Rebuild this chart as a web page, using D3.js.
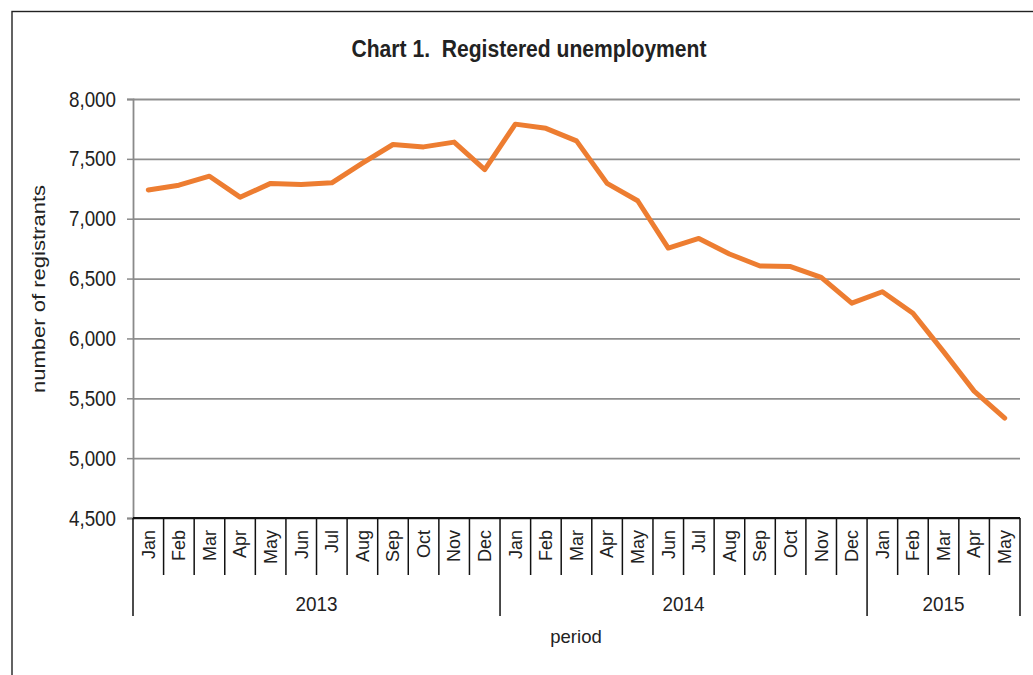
<!DOCTYPE html>
<html>
<head>
<meta charset="utf-8">
<script src="https://cdn.jsdelivr.net/npm/d3@7"></script>
<style>
  body { margin: 0; background: #fff; }
  text { font-family: "Liberation Sans", Arial, sans-serif; fill: #222; }
</style>
</head>
<body>
<div id="chart"></div>
<script>
// Chart data
const yearLabels = ["2013", "2014", "2015"];
const monthsPerYear = [12, 12, 5];
const monthNames = ["Jan", "Feb", "Mar", "Apr", "May", "Jun", "Jul", "Aug", "Sep", "Oct", "Nov", "Dec"];
const registrants2013 = [7240, 7280, 7355, 7180, 7295, 7285, 7300, 7465, 7620, 7600, 7640, 7410];
const registrants2014 = [7790, 7755, 7650, 7295, 7150, 6755, 6835, 6705, 6605, 6600, 6510, 6295];
const registrants2015 = [6390, 6210, 5890, 5560, 5335];
const yTicks = [4500, 5000, 5500, 6000, 6500, 7000, 7500, 8000];

const chartTitle = "Chart 1.  Registered unemployment";
const yAxisTitle = "number of registrants";
const xAxisTitle = "period";

// Flatten into one list of periods
const seriesByYear = [registrants2013, registrants2014, registrants2015];
const periods = [];
yearLabels.forEach((yr, yi) => {
  for (let m = 0; m < monthsPerYear[yi]; m++) {
    periods.push({ idx: periods.length, year: yr, month: monthNames[m], value: seriesByYear[yi][m] });
  }
});

const width = 1033, height = 675;
const plot = { left: 133, right: 1020, top: 99, bottom: 518 };

const svg = d3.select("#chart").append("svg")
  .attr("width", width)
  .attr("height", height);

svg.append("rect").attr("width", width).attr("height", height).attr("fill", "#fff");

// outer frame (cropped on the right and bottom)
svg.append("rect")
  .attr("x", 12).attr("y", 11.5)
  .attr("width", width + 20).attr("height", height + 20)
  .attr("fill", "none").attr("stroke", "#222").attr("stroke-width", 1.4);

const x = d3.scaleBand().domain(periods.map((d) => d.idx)).range([plot.left, plot.right]);
const y = d3.scaleLinear().domain([4500, 8000]).range([plot.bottom, plot.top]);

// gridlines
svg.append("g")
  .attr("transform", `translate(${plot.left},0)`)
  .call(d3.axisLeft(y).tickValues(yTicks).tickSize(-(plot.right - plot.left)).tickFormat(""))
  .call((g) => g.select(".domain").remove())
  .call((g) => g.selectAll("line").attr("stroke", "#8f8f8f").attr("stroke-width", 1.8));

// y axis
const yAxis = svg.append("g")
  .attr("transform", `translate(${plot.left},0)`)
  .call(d3.axisLeft(y).tickValues(yTicks).tickSize(6).tickPadding(11).tickFormat(d3.format(",")));
yAxis.select(".domain").attr("stroke", "#8a8a8a").attr("stroke-width", 1.8);
yAxis.selectAll(".tick line").attr("stroke", "#8a8a8a").attr("stroke-width", 1.5);
yAxis.selectAll("text")
  .style("font-size", "22px")
  .attr("textLength", 47).attr("lengthAdjust", "spacingAndGlyphs")
  .attr("fill", "#222");

// x axis: month labels
const xAxis = svg.append("g")
  .attr("transform", `translate(0,${plot.bottom})`)
  .call(d3.axisBottom(x).tickSize(0).tickFormat((i) => periods[i].month));
xAxis.select(".domain").remove();
xAxis.selectAll("text")
  .attr("fill", "#222")
  .style("font-size", "18px")
  .attr("text-anchor", "end")
  .attr("x", 0).attr("y", 0)
  .attr("dy", "0.35em")
  .attr("transform", "translate(0,12) rotate(-90)");

// month and year separators
const yearStarts = [0, 12, 24, 29];
const boundaries = d3.range(periods.length + 1);
svg.append("g").selectAll("line")
  .data(boundaries)
  .join("line")
  .attr("x1", (i) => (i < periods.length ? x(i) : plot.right))
  .attr("x2", (i) => (i < periods.length ? x(i) : plot.right))
  .attr("y1", plot.bottom)
  .attr("y2", (i) => (yearStarts.includes(i) ? 616 : 575))
  .attr("stroke", "#111")
  .attr("stroke-width", 1.5);

// year labels
svg.append("g").selectAll("text")
  .data(yearLabels)
  .join("text")
  .attr("x", (d, i) => {
    const a = x(yearStarts[i]);
    const b = yearStarts[i + 1] < periods.length ? x(yearStarts[i + 1]) : plot.right;
    return (a + b) / 2;
  })
  .attr("y", 611)
  .attr("text-anchor", "middle")
  .style("font-size", "21px")
  .attr("textLength", 42).attr("lengthAdjust", "spacingAndGlyphs")
  .text((d) => d);

// x axis baseline
svg.append("line")
  .attr("x1", plot.left).attr("x2", plot.right)
  .attr("y1", plot.bottom).attr("y2", plot.bottom)
  .attr("stroke", "#111").attr("stroke-width", 2);

// the series line
const line = d3.line()
  .x((d) => x(d.idx) + x.bandwidth() / 2)
  .y((d) => y(d.value));

svg.append("path")
  .datum(periods)
  .attr("d", line)
  .attr("fill", "none")
  .attr("stroke", "#ED7D31")
  .attr("stroke-width", 5)
  .attr("stroke-linejoin", "round")
  .attr("stroke-linecap", "round");

// titles
svg.append("text")
  .attr("x", 529).attr("y", 57)
  .attr("text-anchor", "middle")
  .style("font-size", "23px").style("font-weight", "bold")
  .style("white-space", "pre")
  .attr("textLength", 355).attr("lengthAdjust", "spacingAndGlyphs")
  .text(chartTitle);

svg.append("text")
  .attr("transform", "translate(44.5,289) rotate(-90)")
  .attr("text-anchor", "middle")
  .style("font-size", "18px")
  .attr("textLength", 208).attr("lengthAdjust", "spacingAndGlyphs")
  .text(yAxisTitle);

svg.append("text")
  .attr("x", 576).attr("y", 643)
  .attr("text-anchor", "middle")
  .style("font-size", "18.5px")
  .text(xAxisTitle);
</script>
</body>
</html>
